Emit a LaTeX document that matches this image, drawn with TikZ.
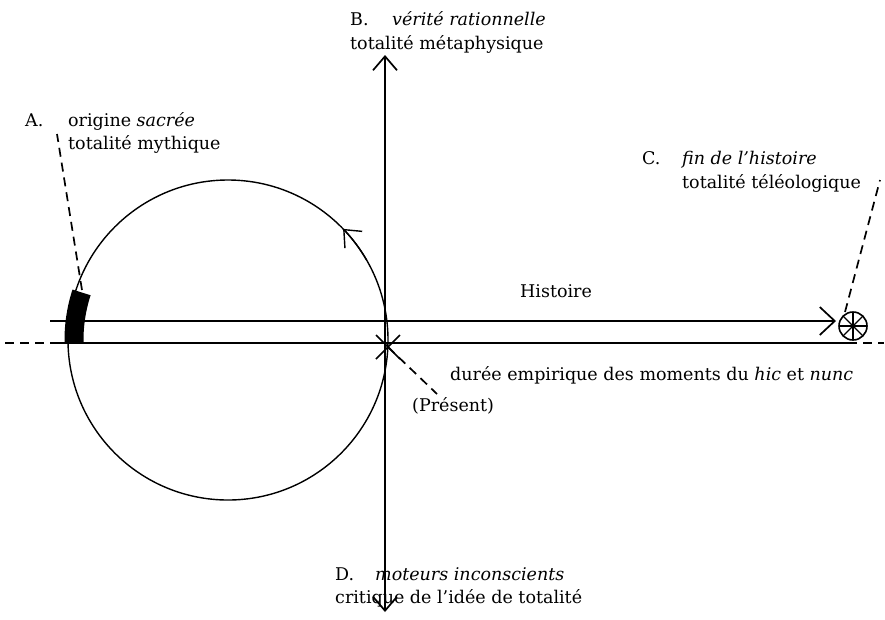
\documentclass[tikz,border=0pt]{standalone}
\usepackage{fontspec}
\setmainfont{DejaVu Serif}
\usetikzlibrary{arrows.meta}
\begin{document}
\begin{tikzpicture}[x=1pt,y=-1pt,
  lbl/.style={anchor=base west,inner sep=0pt,font=\fontsize{17.5}{22}\selectfont},
  axis/.style={line width=1.7pt},
  barb/.style={-{Straight Barb[length=14pt,width=24pt,line width=1.7pt]}},
  dsh/.style={line width=1.7pt,dash pattern=on 9pt off 6pt}]
\useasboundingbox (0,0) rectangle (885,619);
% main circle
\coordinate (c) at (228,340);
\draw[line width=1.4pt] (c) circle[radius=160];
\draw[line width=1.4pt,-{Straight Barb[length=14pt,width=24pt,line width=1.4pt]}] (c) ++(-30:160) arc (-30:-44:160);
% sacred block
\draw[line width=19pt] (c) ++(179:154) arc (179:198:154);
% vertical axis
\coordinate (vt) at (385,55);
\coordinate (vb) at (385,612);
\draw[axis,barb] (385,330) -- (vt);
\draw[axis,barb] (385,330) -- (vb);
% Histoire arrow
\coordinate (hs) at (50,321);
\coordinate (ht) at (836,321);
\draw[axis,-{Straight Barb[length=15pt,width=28pt,line width=1.7pt]}] (hs) -- (ht);
% wheel
\coordinate (w) at (853,326);
\draw[line width=1.6pt] (w) circle[radius=14];
\foreach \a in {0,45,90,135} \draw[line width=1.1pt] (w) ++(\a:14) -- ++(\a+180:28);
\fill (w) circle[radius=2.5];
% base line
\coordinate (bl) at (50,343);
\coordinate (br) at (848,343);
\draw[axis] (bl) -- (br);
\draw[dsh] (5,343) -- (bl);
\draw[dsh] (br) -- (884,343);
% cross (present)
\coordinate (x) at (388,347);
\draw[line width=1.7pt] (x) ++(-12,-12) -- ++(24,24);
\draw[line width=1.7pt] (x) ++(-12,12) -- ++(24,-24);
\draw[dsh] (x) -- (437,394);
% dashed leaders
\draw[dsh] (82,290) -- (57,134);
\draw[dsh] (845,312) -- (880,180);
% labels
\node[lbl] (A1) at (25,126) {A.};
\node[lbl] (A1b) at (68,126) {origine \textit{sacrée}};
\node[lbl] (A2) at (68,149) {totalité mythique};
\node[lbl] (B1) at (350,25) {B.};
\node[lbl] (B1b) at (392,25) {\textit{vérité rationnelle}};
\node[lbl] (B2) at (350,49) {totalité métaphysique};
\node[lbl] (C1) at (642,164) {C.};
\node[lbl] (C1b) at (682,164) {\textit{fin de l'histoire}};
\node[lbl] (C2) at (682,188) {totalité téléologique};
\node[lbl] (D1) at (335,580) {D.};
\node[lbl] (D1b) at (375,580) {\textit{moteurs inconscients}};
\node[lbl] (D2) at (335,603) {critique de l'idée de totalité};
\node[lbl] (H) at (520,297) {Histoire};
\node[lbl] (du) at (450,380) {durée empirique des moments du \textit{hic} et \textit{nunc}};
\node[lbl] (pr) at (412,411) {(Présent)};
\end{tikzpicture}
\end{document}
